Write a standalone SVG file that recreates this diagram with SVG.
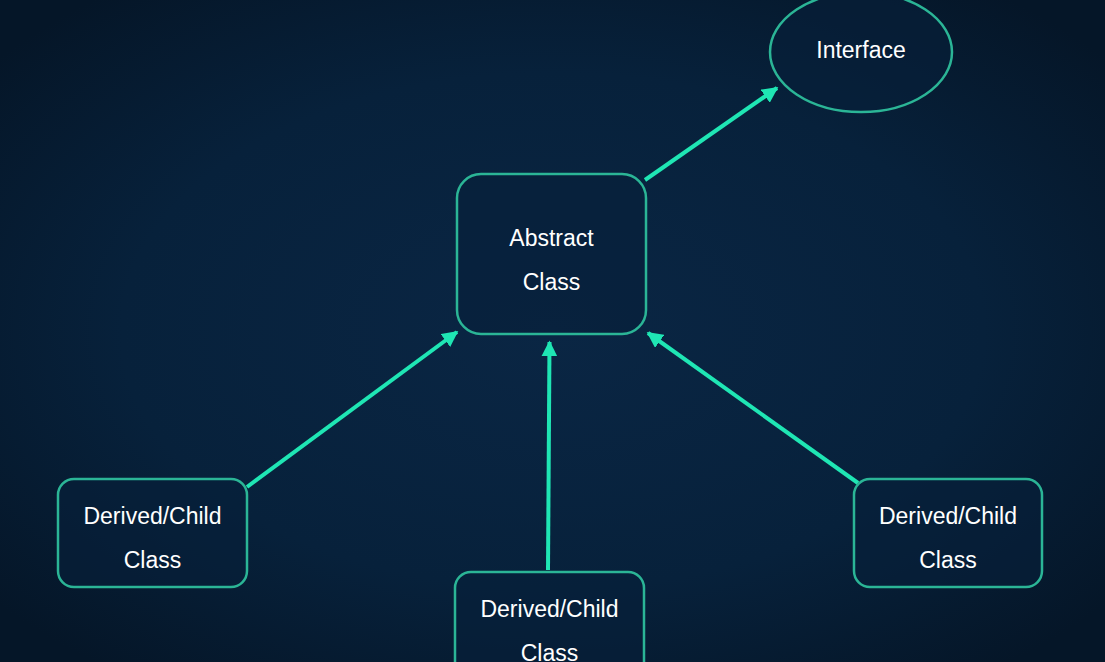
<svg xmlns="http://www.w3.org/2000/svg" width="1105" height="662" viewBox="0 0 1105 662">
<defs>
<radialGradient id="bg" cx="50%" cy="50%" r="65%">
<stop offset="0" stop-color="#0a2644"/>
<stop offset="0.6" stop-color="#07213b"/>
<stop offset="1" stop-color="#051628"/>
</radialGradient>
<marker id="ah" viewBox="0 0 10 10" refX="9" refY="5" markerWidth="4" markerHeight="4" orient="auto" markerUnits="strokeWidth">
<path d="M0,0 L10,5 L0,10 Z" fill="#1fe6b4"/>
</marker>
<style>
.node{fill:#06203a;fill-opacity:0.6;stroke:#2bb596;stroke-width:2.5}
.lbl{font-family:"Liberation Sans",Arial,sans-serif;font-size:23px;fill:#ffffff;text-anchor:middle}
.edge{stroke:#1fe6b4;stroke-width:4;fill:none;marker-end:url(#ah)}
</style>
</defs>
<rect width="1105" height="662" fill="url(#bg)"/>
<g id="connectors">
<line class="edge" x1="645" y1="180" x2="777" y2="88"/>
<line class="edge" x1="247" y1="487" x2="457" y2="332"/>
<line class="edge" x1="548" y1="570" x2="549.5" y2="342"/>
<line class="edge" x1="858" y1="483" x2="648" y2="333"/>
</g>
<g id="interface">
<ellipse class="node" cx="861" cy="52" rx="91" ry="60"/>
<text class="lbl" x="861" y="58">Interface</text>
</g>
<g id="abstract">
<rect class="node" x="457" y="174" width="189" height="160" rx="24"/>
<text class="lbl" x="551.5" y="246">Abstract</text>
<text class="lbl" x="551.5" y="290">Class</text>
</g>
<g id="child-left">
<rect class="node" x="58" y="479" width="189" height="108" rx="16"/>
<text class="lbl" x="152.5" y="524">Derived/Child</text>
<text class="lbl" x="152.5" y="568">Class</text>
</g>
<g id="child-middle">
<rect class="node" x="455" y="572" width="189" height="108" rx="16"/>
<text class="lbl" x="549.5" y="617">Derived/Child</text>
<text class="lbl" x="549.5" y="661">Class</text>
</g>
<g id="child-right">
<rect class="node" x="854" y="479" width="188" height="108" rx="16"/>
<text class="lbl" x="948" y="524">Derived/Child</text>
<text class="lbl" x="948" y="568">Class</text>
</g>
</svg>
